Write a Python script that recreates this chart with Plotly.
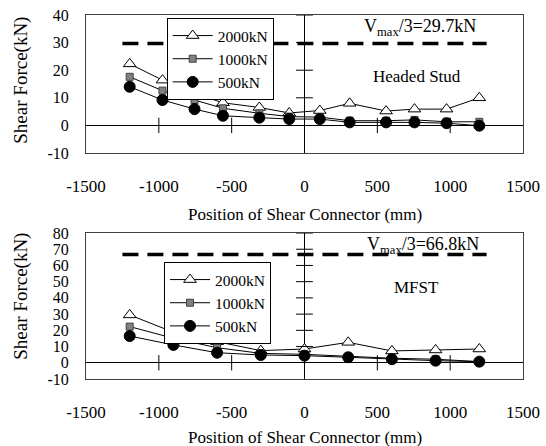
import plotly.graph_objects as go

# ---- data ----
top_x = [-1200, -975, -755, -560, -310, -105, 105, 310, 560, 755, 975, 1200]
top_2000 = [22.3, 16.4, 11.6, 8.2, 6.5, 4.5, 5.4, 8.0, 5.2, 5.9, 5.9, 10.0]
top_1000 = [17.6, 12.6, 9.2, 6.2, 4.4, 3.2, 3.0, 1.7, 1.7, 2.0, 1.3, 1.3]
top_500 = [14.0, 9.2, 5.9, 3.5, 2.8, 2.3, 2.3, 1.1, 1.1, 1.1, 0.8, -0.1]

bot_x = [-1200, -900, -600, -300, 0, 300, 600, 900, 1200]
bot_2000 = [29.5, 18.8, 13.0, 7.5, 8.5, 12.6, 7.3, 7.9, 8.5]
bot_1000 = [22.3, 15.1, 9.3, 5.8, 5.2, 3.8, 2.8, 2.2, 0.7]
bot_500 = [16.5, 11.0, 6.2, 4.8, 4.4, 3.4, 2.2, 1.3, 0.7]

series_names = ["2000kN", "1000kN", "500kN"]
vmax_top = 29.7
vmax_bot = 66.8
vmax_span = [-1250, 1250]

x_ticks = [-1500, -1000, -500, 0, 500, 1000, 1500]
x_ticklabels = ["-1500", "-1000", "-500", "0", "500", "1000", "1500"]
y_ticks_top = [-10, 0, 10, 20, 30, 40]
y_ticks_bot = [-10, 0, 10, 20, 30, 40, 50, 60, 70, 80]
x_cross_ticks = [-1000, -500, 500, 1000]
y_cross_top = [10, 20, 30, 40]
y_cross_bot = [10, 20, 30, 40, 50, 60, 70, 80]

FONT = "Liberation Serif"
W, H = 546, 446

styles = [
    dict(symbol="triangle-up", size=11, color="white", line=dict(color="black", width=1)),
    dict(symbol="square", size=7, color="#808080", line=dict(color="#404040", width=1)),
    dict(symbol="circle", size=11, color="black", line=dict(color="black", width=1)),
]

fig = go.Figure()

def add_panel(xs, ys_list, xa, ya, legend, vmax, ycross):
    for name, ys, st in zip(series_names, ys_list, styles):
        fig.add_trace(go.Scatter(
            x=xs, y=ys, name=name, mode="lines+markers",
            line=dict(color="black", width=1), marker=st,
            xaxis=xa, yaxis=ya, legend=legend))
    fig.add_trace(go.Scatter(
        x=vmax_span, y=[vmax, vmax], mode="lines",
        line=dict(color="black", width=3.5, dash="16px,9px"),
        xaxis=xa, yaxis=ya, showlegend=False, hoverinfo="skip"))
    fig.add_trace(go.Scatter(
        x=x_cross_ticks, y=[0] * len(x_cross_ticks), mode="markers",
        marker=dict(symbol="line-ns", size=11, line=dict(color="black", width=1)),
        xaxis=xa, yaxis=ya, showlegend=False, hoverinfo="skip"))
    fig.add_trace(go.Scatter(
        x=[0] * len(ycross), y=ycross, mode="markers",
        marker=dict(symbol="line-ew", size=12, line=dict(color="black", width=1)),
        xaxis=xa, yaxis=ya, showlegend=False, hoverinfo="skip"))

add_panel(top_x, [top_2000, top_1000, top_500], "x", "y", "legend", vmax_top, y_cross_top)
add_panel(bot_x, [bot_2000, bot_1000, bot_500], "x2", "y2", "legend2", vmax_bot, y_cross_bot)

xdom = [86 / W, 523 / W]
ax_common = dict(showgrid=False, zeroline=True, zerolinecolor="black", zerolinewidth=1,
                 showline=True, mirror=True, linecolor="#404040", linewidth=1,
                 ticks="", automargin=False)
xfont = dict(family=FONT, size=17, color="black")
yfont = dict(family=FONT, size=16, color="black")

fig.update_layout(
    width=W, height=H,
    margin=dict(l=0, r=0, t=0, b=0, autoexpand=False),
    paper_bgcolor="white", plot_bgcolor="white",
    font=dict(family=FONT, size=17, color="black"),
    xaxis=dict(domain=xdom, range=[-1500, 1500], tickvals=x_ticks, ticktext=x_ticklabels,
               anchor="y", ticklabelstandoff=18, tickfont=xfont, **ax_common),
    yaxis=dict(domain=[1 - 153 / H, 1 - 15 / H], range=[-10, 40], tickvals=y_ticks_top,
               ticktext=[str(v) for v in y_ticks_top], anchor="x",
               ticklabelstandoff=13, tickfont=yfont, **ax_common),
    xaxis2=dict(domain=xdom, range=[-1500, 1500], tickvals=x_ticks, ticktext=x_ticklabels,
                anchor="y2", ticklabelstandoff=18, tickfont=xfont, **ax_common),
    yaxis2=dict(domain=[1 - 379 / H, 1 - 233 / H], range=[-10, 80], tickvals=y_ticks_bot,
                ticktext=[str(v) for v in y_ticks_bot], anchor="x2",
                ticklabelstandoff=13, tickfont=yfont, **ax_common),
    legend=dict(x=166.7 / W, y=1 - 18 / H, xanchor="left", yanchor="top",
                bgcolor="white", bordercolor="black", borderwidth=1, itemwidth=40,
                font=dict(family=FONT, size=15.5, color="black"), tracegroupgap=0),
    legend2=dict(x=164 / W, y=1 - 262 / H, xanchor="left", yanchor="top",
                 bgcolor="white", bordercolor="black", borderwidth=1, itemwidth=40,
                 font=dict(family=FONT, size=15.5, color="black"), tracegroupgap=0),
)

ann = [
    dict(text="V<sub>max</sub>/3=29.7kN", x=793, y=35.3, xref="x", yref="y", size=18),
    dict(text="Headed Stud", x=770, y=17.9, xref="x", yref="y"),
    dict(text="V<sub>max</sub>/3=66.8kN", x=813, y=72.5, xref="x2", yref="y2", size=18),
    dict(text="MFST", x=770, y=46.7, xref="x2", yref="y2"),
    dict(text="Position of Shear Connector (mm)", x=0.5 * (xdom[0] + xdom[1]), y=1 - 215 / H,
         xref="paper", yref="paper"),
    dict(text="Position of Shear Connector (mm)", x=0.5 * (xdom[0] + xdom[1]), y=1 - 437 / H,
         xref="paper", yref="paper"),
    dict(text="Shear Force(kN)", x=20.7 / W, y=1 - 80 / H, xref="paper", yref="paper",
         textangle=-90, size=19),
    dict(text="Shear Force(kN)", x=20.7 / W, y=1 - 296 / H, xref="paper", yref="paper",
         textangle=-90, size=19),
]
for a in ann:
    size = a.pop("size", 17)
    fig.add_annotation(showarrow=False, xanchor="center", yanchor="middle",
                       font=dict(family=FONT, size=size, color="black"), **a)

fig.write_html("out.html", config={"displayModeBar": False},
               post_script="document.body.style.margin='0';")
